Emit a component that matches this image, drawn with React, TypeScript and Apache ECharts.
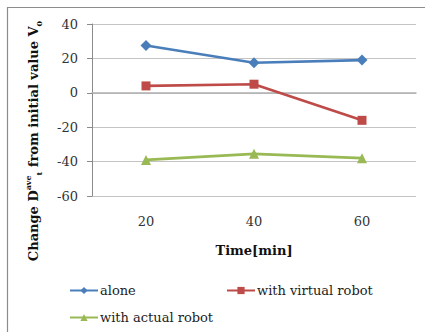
import React, { useEffect, useRef } from "react";
import * as echarts from "echarts";

const categories = ["20", "40", "60"];
const alone = [27.5, 17.5, 19];
const virtualRobot = [4, 5, -16];
const actualRobot = [-39, -35.5, -38];
const yTicks = { min: -60, max: 40, interval: 20 };

const SERIF = "DejaVu Serif";

export default function App() {
  const ref = useRef<HTMLDivElement>(null);
  useEffect(() => {
    const chart = echarts.init(ref.current!, null, { renderer: "svg" });
    const mk = (name: string, data: number[], color: string, symbol: string, size: number) => ({
      name,
      type: "line",
      data,
      symbol,
      symbolSize: size,
      lineStyle: { color, width: 2.6 },
      itemStyle: { color },
      animation: false,
    });
    const legendText = { fontSize: 13, fontFamily: SERIF, color: "#222", padding: [0, 0, 0, -3] };
    chart.setOption({
      animation: false,
      backgroundColor: "#ffffff",
      textStyle: { fontFamily: SERIF },
      grid: { left: 92, right: 9, top: 24, bottom: 136 },
      xAxis: {
        type: "category",
        data: categories,
        boundaryGap: true,
        axisLine: { lineStyle: { color: "#b0b0b0", width: 1.5 } },
        axisTick: { show: false },
        axisLabel: { color: "#333", fontSize: 13, fontFamily: SERIF, margin: 19 },
        name: "Time[min]",
        nameLocation: "middle",
        nameGap: 48,
        nameTextStyle: { color: "#111", fontSize: 13, fontWeight: "bold", fontFamily: SERIF },
      },
      yAxis: {
        type: "value",
        min: yTicks.min,
        max: yTicks.max,
        interval: yTicks.interval,
        axisLine: { show: true, lineStyle: { color: "#8a8a8a" } },
        axisTick: { show: true, length: 5, lineStyle: { color: "#8a8a8a" } },
        axisLabel: { color: "#333", fontSize: 13, fontFamily: SERIF, margin: 14 },
        splitLine: { lineStyle: { color: "#c4c4c4", width: 1.2 } },
      },
      legend: [
        { data: ["alone"], left: 64, top: 279, itemWidth: 28, itemHeight: 9, textStyle: legendText },
        { data: ["with virtual robot"], left: 221, top: 279, itemWidth: 28, itemHeight: 9, textStyle: legendText },
        { data: ["with actual robot"], left: 64, top: 306, itemWidth: 28, itemHeight: 9, textStyle: legendText },
      ],
      graphic: [
        {
          type: "rect",
          silent: true,
          shape: { x: 7.5, y: 7.5, width: 440, height: 340 },
          style: { fill: "none", stroke: "#8c8c8c", lineWidth: 1.2 },
        },
        {
          type: "text",
          x: 33,
          y: 141,
          rotation: Math.PI / 2,
          style: {
            text: "{m|Change D}{sup|ave}{sub|t}{m| from initial value V}{sub|0}",
            align: "center",
            verticalAlign: "middle",
            fill: "#111",
            rich: {
              m: { fontSize: 13, fontWeight: "bold", fontFamily: SERIF, fill: "#111", lineHeight: 19 },
              sup: { fontSize: 8, fontWeight: "bold", fontFamily: SERIF, fill: "#111", verticalAlign: "top" },
              sub: { fontSize: 8, fontWeight: "bold", fontFamily: SERIF, fill: "#111", verticalAlign: "bottom" },
            },
          },
        },
      ],
      series: [
        mk("alone", alone, "#4a7ebb", "diamond", 11),
        mk("with virtual robot", virtualRobot, "#be4b48", "rect", 9),
        mk("with actual robot", actualRobot, "#98b954", "triangle", 10),
      ],
    });
    return () => chart.dispose();
  }, []);
  return (
    <div
      ref={ref}
      style={{ position: "fixed", left: 0, top: 0, width: 425, height: 332, background: "#fff" }}
    />
  );
}
